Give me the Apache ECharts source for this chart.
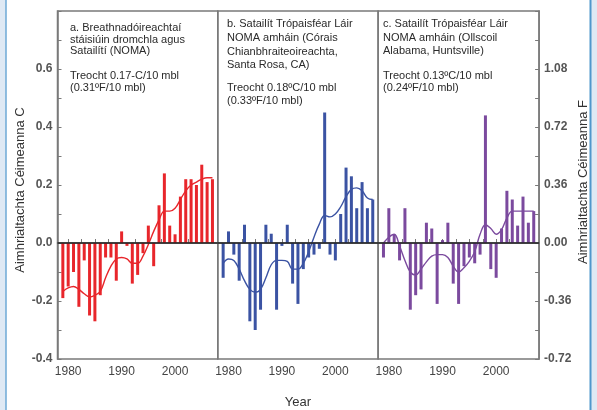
<!DOCTYPE html>
<html>
<head>
<meta charset="utf-8">
<script src="https://cdn.jsdelivr.net/npm/echarts@6/dist/echarts.min.js"></script>
<style>
html,body{margin:0;padding:0;background:#dfe9f4;}
#chart{width:597px;height:410px;}
</style>
</head>
<body>
<div id="chart"></div>
<script>
const years = [1979,1980,1981,1982,1983,1984,1985,1986,1987,1988,1989,1990,1991,1992,1993,1994,1995,1996,1997,1998,1999,2000,2001,2002,2003,2004,2005,2006,2007];

const surfaceC = [-0.19,-0.15,-0.10,-0.22,-0.06,-0.25,-0.27,-0.18,-0.05,-0.05,-0.13,0.04,-0.01,-0.14,-0.11,-0.035,0.06,-0.08,0.13,0.24,0.06,0.03,0.16,0.22,0.22,0.20,0.27,0.21,0.22];
const surfaceSmooth = [-0.167,-0.155,-0.15,-0.16,-0.175,-0.186,-0.18,-0.167,-0.12,-0.08,-0.055,-0.05,-0.055,-0.07,-0.07,-0.045,-0.005,0.04,0.08,0.11,0.11,0.12,0.15,0.18,0.20,0.21,0.22,0.225,0.225];

const rssC = [-0.12,0.04,-0.04,-0.13,0.063,-0.27,-0.30,-0.23,0.063,0.032,-0.23,-0.01,0.063,-0.14,-0.21,-0.09,-0.05,-0.04,-0.02,0.45,-0.04,-0.06,0.10,0.26,0.23,0.12,0.21,0.12,0.15];
const rssSmooth = [-0.07,-0.055,-0.06,-0.09,-0.13,-0.16,-0.17,-0.16,-0.12,-0.075,-0.06,-0.06,-0.063,-0.09,-0.09,-0.07,-0.03,0.02,0.065,0.095,0.09,0.10,0.125,0.16,0.185,0.19,0.18,0.155,0.15];

const uahC = [-0.05,0.12,0.03,-0.06,0.12,-0.23,-0.18,-0.16,0.07,0.05,-0.21,0.01,0.07,-0.14,-0.21,-0.08,-0.05,-0.07,-0.04,0.44,-0.09,-0.12,0.05,0.18,0.15,0.06,0.16,0.07,0.11];
const uahSmooth = [0.0,0.02,0.03,-0.01,-0.06,-0.10,-0.11,-0.09,-0.065,-0.045,-0.04,-0.04,-0.05,-0.08,-0.10,-0.085,-0.063,-0.03,0.03,0.063,0.05,0.03,0.046,0.086,0.11,0.11,0.11,0.11,0.11];

const xTickValues = [1980,1982.5,1985,1987.5,1990,1992.5,1995,1997.5,2000,2002.5,2005];
const xLabelValues = [1980,1990,2000];

const panelTextA = ["a. Breathnadóireachtaí","stáisiúin dromchla agus","Satailítí (NOMA)","Treocht 0.17-C/10 mbl","(0.31ºF/10 mbl)"];
const panelTextB = ["b. Satailít Trópaisféar Láir","NOMA amháin (Córais","Chianbhraiteoireachta,","Santa Rosa, CA)","Treocht 0.18ºC/10 mbl","(0.33ºF/10 mbl)"];
const panelTextC = ["c. Satailít Trópaisféar Láir","NOMA amháin (Ollscoil","Alabama, Huntsville)","Treocht 0.13ºC/10 mbl","(0.24ºF/10 mbl)"];

const leftTitle = "Aimhrialtachta Céimeanna C";
const rightTitle = "Aimhrialtachta Céimeanna F";
const xTitle = "Year";

const colors = ['#e8262b', '#3b53a3', '#7b4a9e'];
const FONT = 'Liberation Sans, Arial, sans-serif';
const AXC = '#7a7a7a';

const chart = echarts.init(document.getElementById('chart'));

const gridDefs = [
  {left: 57.5, top: 11, width: 160.3, height: 348},
  {left: 217.8, top: 11, width: 160.3, height: 348},
  {left: 378.1, top: 11, width: 161, height: 348}
];

const grids = gridDefs.map(g => Object.assign({}, g, {
  show: true, borderColor: AXC, borderWidth: 1.5, backgroundColor: 'transparent', containLabel: false
}));

const xAxes = gridDefs.map((g, i) => ({
  type: 'value', gridIndex: i, min: 1978, max: 2008,
  axisLine: {show: true, lineStyle: {color: AXC, width: 1.5}},
  axisTick: {show: true, inside: true, length: 4, customValues: xTickValues, lineStyle: {color: AXC, width: 1}},
  axisLabel: {show: true, customValues: xLabelValues, fontFamily: FONT, fontSize: 12, color: '#444', margin: 7,
    formatter: v => String(v)},
  splitLine: {show: false}
}));

const yCommon = {
  type: 'value', min: -0.4, max: 0.8, interval: 0.2,
  splitLine: {show: false}
};

const yAxes = [
  Object.assign({}, yCommon, {
    gridIndex: 0, position: 'left',
    axisLine: {show: true, lineStyle: {color: AXC, width: 1.5}},
    axisTick: {show: true, inside: true, length: 4, lineStyle: {color: AXC}},
    minorTick: {show: true, splitNumber: 2, length: 4, lineStyle: {color: AXC}},
    axisLabel: {fontFamily: FONT, fontSize: 12, fontWeight: 'bold', color: '#555', margin: 5,
      formatter: v => (Math.abs(v - 0.8) < 1e-6 ? '' : v.toFixed(1))}
  }),
  Object.assign({}, yCommon, {gridIndex: 1, show: false}),
  Object.assign({}, yCommon, {gridIndex: 2, show: false}),
  {
    type: 'value', gridIndex: 2, position: 'right', min: -0.72, max: 1.44, interval: 0.36,
    splitLine: {show: false},
    axisLine: {show: true, lineStyle: {color: AXC, width: 1.5}},
    axisTick: {show: true, inside: true, length: 4, lineStyle: {color: AXC}},
    minorTick: {show: true, splitNumber: 2, length: 4, lineStyle: {color: AXC}},
    axisLabel: {fontFamily: FONT, fontSize: 12, fontWeight: 'bold', color: '#555', margin: 5,
      formatter: v => (v > 1.4 ? '' : v.toFixed(2))}
  }
];

const barData = [surfaceC, rssC, uahC];
const smoothData = [surfaceSmooth, rssSmooth, uahSmooth];

const series = [];
barData.forEach((arr, i) => {
  series.push({
    type: 'bar', xAxisIndex: i, yAxisIndex: i, barWidth: 3,
    itemStyle: {color: colors[i]},
    data: years.map((y, k) => [y, arr[k]]),
    z: 2,
    markLine: {
      silent: true, symbol: 'none', label: {show: false},
      lineStyle: {color: '#222', width: 1.5, type: 'solid'},
      data: [{yAxis: 0}]
    }
  });
  series.push({
    type: 'line', xAxisIndex: i, yAxisIndex: i, smooth: 0.4, showSymbol: false,
    lineStyle: {color: colors[i], width: 1.4},
    data: years.map((y, k) => [y, smoothData[i][k]]),
    z: 4
  });
});

function textBlock(lines, x, ys) {
  return lines.map((t, k) => ({
    type: 'text', left: x, top: ys[k] - 6.5, z: 100,
    style: {text: t, font: '11px ' + FONT, fill: '#2a2a2a'}
  }));
}

const graphics = [
  {type: 'rect', shape: {x: 0, y: 0, width: 597, height: 410}, style: {fill: '#dfe9f4'}, z: -20},
  {type: 'rect', shape: {x: 6, y: 0, width: 584, height: 410}, style: {fill: '#ffffff'}, z: -19},
  {type: 'line', shape: {x1: 6, y1: 0, x2: 6, y2: 410}, style: {stroke: '#6ea8d6', lineWidth: 1.5}, z: -18},
  {type: 'line', shape: {x1: 590.5, y1: 0, x2: 590.5, y2: 410}, style: {stroke: '#4f97cc', lineWidth: 2}, z: -18},
  {type: 'text', x: 20, y: 190, rotation: Math.PI / 2, z: 100,
    style: {text: leftTitle, font: '13px ' + FONT, fill: '#333', textAlign: 'center', textVerticalAlign: 'middle'}},
  {type: 'text', x: 583, y: 182, rotation: Math.PI / 2, z: 100,
    style: {text: rightTitle, font: '13px ' + FONT, fill: '#333', textAlign: 'center', textVerticalAlign: 'middle'}},
  {type: 'text', x: 298, y: 402, z: 100,
    style: {text: xTitle, font: '13px ' + FONT, fill: '#333', textAlign: 'center', textVerticalAlign: 'middle'}}
].concat(
  textBlock(panelTextA, 70, [29, 40.5, 52, 77, 89]),
  textBlock(panelTextB, 227, [25, 39, 53, 66, 89, 102]),
  textBlock(panelTextC, 383, [25, 38.5, 52, 77, 89])
);

chart.setOption({
  animation: false,
  backgroundColor: 'transparent',
  grid: grids,
  xAxis: xAxes,
  yAxis: yAxes,
  series: series,
  graphic: graphics
});
</script>
</body>
</html>
